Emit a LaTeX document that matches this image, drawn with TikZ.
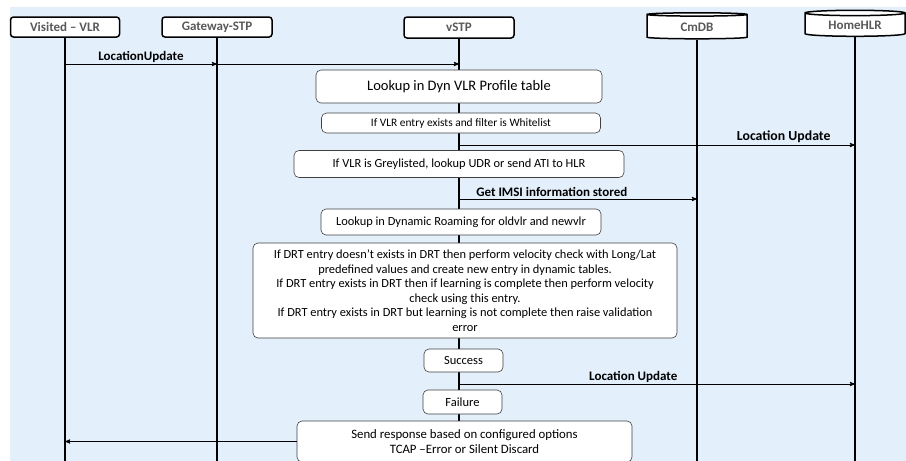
\documentclass[tikz,border=0pt]{standalone}
\usepackage{fontspec}
\setmainfont{Carlito}
\usetikzlibrary{arrows,positioning,shapes.geometric}
\definecolor{bgblue}{RGB}{228,239,252}
\definecolor{headgrey}{RGB}{89,89,89}

\begin{document}
\begin{tikzpicture}[x=1pt,y=-1pt,>=stealth',
  head/.style={draw,rounded corners=3pt,line width=1.5pt,fill=white,minimum width=109pt,minimum height=20pt,inner sep=0pt,text=headgrey,font=\bfseries\fontsize{13}{14}\selectfont},
  db/.style={draw,cylinder,shape border rotate=90,aspect=0.1,line width=1.5pt,fill=white,minimum width=100pt,minimum height=26pt,inner sep=0pt,text=headgrey,font=\bfseries\fontsize{13}{14}\selectfont},
  life/.style={line width=1.3pt},
  stepbox/.style={draw=black!75,line width=0.6pt,rounded corners=5pt,fill=white,inner sep=0pt,align=center,font=\fontsize{12.4}{14.5}\selectfont},
  msg/.style={->,line width=0.9pt},
  lbl/.style={above,inner sep=1.5pt,font=\bfseries\fontsize{13}{14}\selectfont}]
  \useasboundingbox (0,0) rectangle (906,461);
  \fill[bgblue] (10,7) rectangle (906,461);
  % participants
  \node[head] (vlr) at (65,27) {Visited – VLR};
  \node[head,minimum width=110pt] (gw) at (217,27) {Gateway-STP};
  \node[head,minimum width=110pt,minimum height=21pt] (vstp) at (459,27.5) {vSTP};
  \node[db] (cmdb) at (697,27) {CmDB};
  \node[db] (hlr) at (855,25) {HomeHLR};
  \foreach \n in {vlr,gw,vstp,cmdb,hlr}{
    \coordinate (\n-end) at (\n |- 0,461);
    \draw[life] (\n.south) -- (\n-end);
  }
  % processing steps on vSTP
  \node[stepbox,minimum width=286pt,minimum height=33pt,font=\fontsize{14.5}{16}\selectfont] (dynvlr) at (459,86.5) {Lookup in Dyn VLR Profile table};
  \node[stepbox,minimum width=279pt,minimum height=20pt,font=\fontsize{11.4}{13}\selectfont] (white) at (461,123) {If VLR entry exists and filter is Whitelist};
  \node[stepbox,minimum width=330pt,minimum height=27pt] (grey) at (459,164) {If VLR is Greylisted, lookup UDR or send ATI to HLR};
  \node[stepbox,minimum width=280pt,minimum height=26pt] (dynroam) at (461,222) {Lookup in Dynamic Roaming for oldvlr and newvlr};
  \node[stepbox,minimum width=424pt,minimum height=95pt] (drt) at (465,290.5) {If DRT entry doesn’t exists in DRT then perform velocity check with Long/Lat\\
    predefined values and create new entry in dynamic tables.\\
    If DRT entry exists in DRT then if learning is complete then perform velocity\\
    check using this entry.\\
    If DRT entry exists in DRT but learning is not complete then raise validation\\
    error};
  \node[stepbox,minimum width=79pt,minimum height=23pt,font=\fontsize{12.5}{15}\selectfont] (ok) at (463.5,360.5) {Success};
  \node[stepbox,minimum width=79pt,minimum height=24pt,font=\fontsize{12.5}{15}\selectfont] (fail) at (462.5,402) {Failure};
  \node[stepbox,minimum width=335pt,minimum height=41pt,font=\fontsize{12.8}{15}\selectfont] (resp) at (464.5,441.5) {Send response based on configured options\\TCAP –Error or Silent Discard};
  % messages
  \draw[msg] (vlr |- 0,64) -- node[lbl] {LocationUpdate} (gw |- 0,64);
  \draw[msg] (gw |- 0,64) -- (vstp |- 0,64);
  \draw[msg] (vstp |- 0,145) -- node[lbl,pos=0.82,font=\bfseries\fontsize{13.8}{15}\selectfont] {Location Update} (hlr |- 0,145);
  \draw[msg] (vstp |- 0,199) -- node[lbl,pos=0.39] {Get IMSI information stored} (cmdb |- 0,199);
  \draw[msg] (vstp |- 0,384) -- node[lbl,pos=0.44] {Location Update} (hlr |- 0,384);
  \draw[msg] (resp.west) -- (vlr |- resp.west);
\end{tikzpicture}
\end{document}
